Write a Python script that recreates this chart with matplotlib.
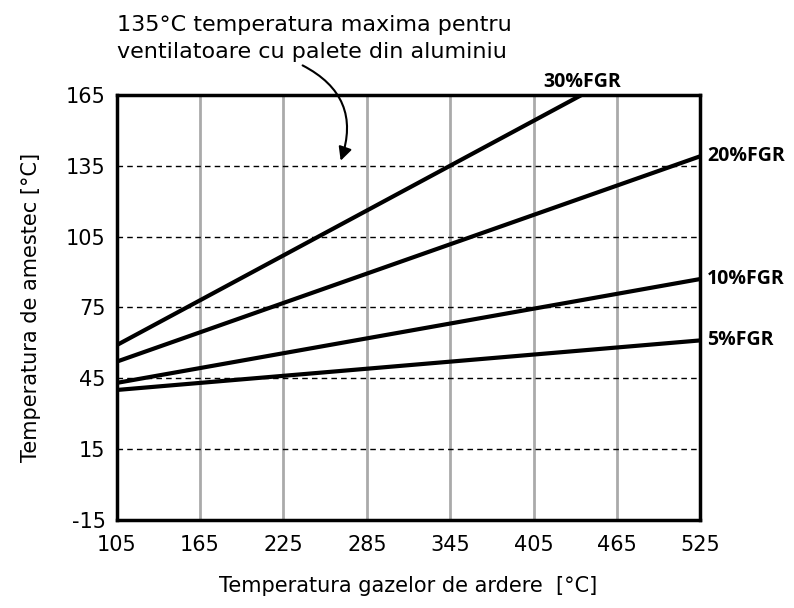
import numpy as np
import matplotlib.pyplot as plt

# data
gas_temp = [105, 525]
fgr_30 = [59, 192]
fgr_20 = [52, 139]
fgr_10 = [43, 87]
fgr_5 = [40, 61]
series = [fgr_30, fgr_20, fgr_10, fgr_5]
labels = ['30%FGR', '20%FGR', '10%FGR', '5%FGR']

x_ticks = [105, 165, 225, 285, 345, 405, 465, 525]
y_ticks = [-15, 15, 45, 75, 105, 135, 165]

plt.rcParams['font.family'] = ['DejaVu Sans']
plt.rcParams['axes.unicode_minus'] = False

fig = plt.figure(figsize=(7.94, 6.08), dpi=100)
ax = fig.add_axes([0.147, 0.145, 0.735, 0.699])

# grid
for xv in x_ticks[1:-1]:
    ax.axvline(xv, color='#aaaaaa', lw=2, zorder=1)
for yv in y_ticks[1:-1]:
    ax.axhline(yv, color='black', lw=1, ls=(0, (4, 3)), zorder=1)

for vals in series:
    ax.plot(gas_temp, vals, color='black', lw=3, solid_capstyle='butt', zorder=3)

ax.set_xlim(105, 525)
ax.set_ylim(-15, 165)
ax.set_xticks(x_ticks)
ax.set_yticks(y_ticks)
ax.tick_params(length=0, labelsize=15)
ax.tick_params(axis='x', pad=11)
ax.tick_params(axis='y', pad=8)
for s in ax.spines.values():
    s.set_linewidth(2.5)

ax.set_xlabel('Temperatura gazelor de ardere  [°C]', fontsize=15, labelpad=15)
ax.set_ylabel('Temperatura de amestec [°C]', fontsize=15, labelpad=18)

# curve labels
lbl = dict(fontsize=14, fontweight='bold', family=['Open Sans', 'DejaVu Sans'],
           clip_on=False)
ax.text(440, 166, labels[0], ha='center', va='bottom', **lbl)
ax.text(530, 139, labels[1], ha='left', va='center', **lbl)
ax.text(530, 87, labels[2], ha='left', va='center', **lbl)
ax.text(530, 61, labels[3], ha='left', va='center', **lbl)

# annotation
ax.text(105, 199, '135°C temperatura maxima pentru\nventilatoare cu palete din aluminiu',
        fontsize=16, ha='left', va='top', linespacing=1.45, clip_on=False)
ax.annotate('', xy=(265.5, 136), xytext=(237, 178),
            arrowprops=dict(arrowstyle='-|>', color='black', lw=1.5,
                            mutation_scale=20,
                            connectionstyle='arc3,rad=-0.45'),
            annotation_clip=False)

fig.savefig('out.png', dpi=100)
